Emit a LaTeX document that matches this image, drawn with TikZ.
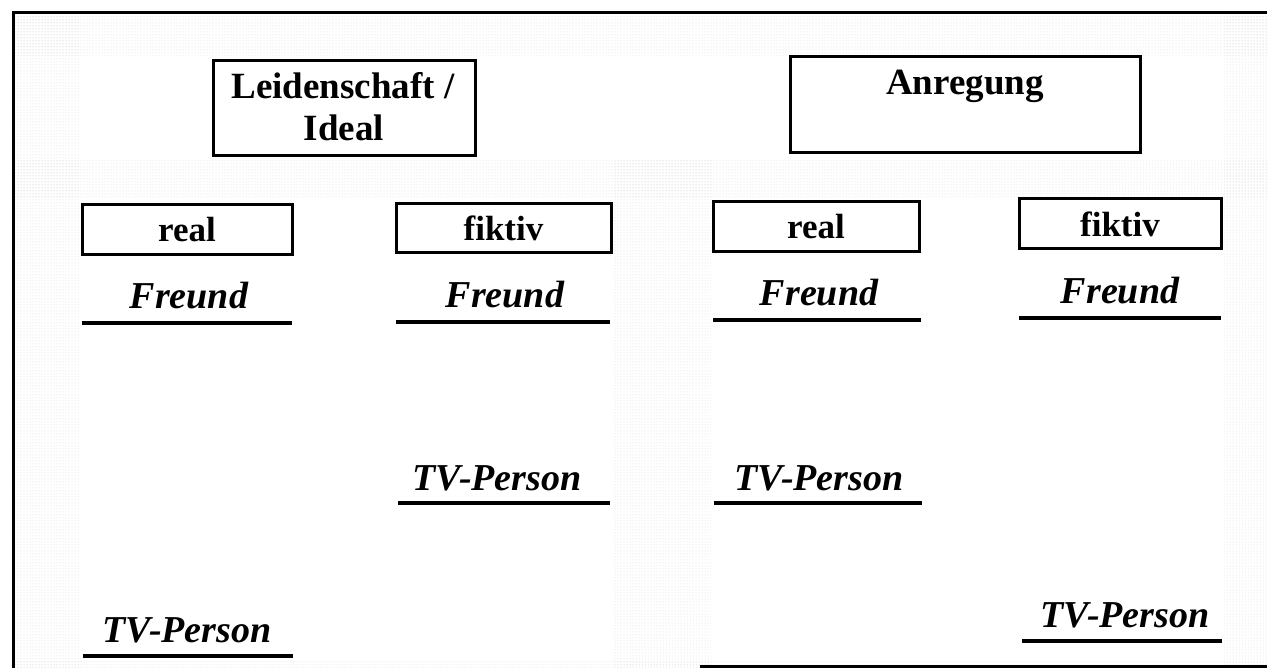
\documentclass[tikz,border=0pt]{standalone}
\usepackage{fontspec}
\setmainfont{Liberation Serif}
\usetikzlibrary{patterns}
\begin{document}
\begin{tikzpicture}[x=1pt,y=-1pt,
  box/.style={draw, line width=3pt, inner sep=0pt, align=center,
    font=\fontsize{35}{46}\selectfont\bfseries},
  topbox/.style={draw, line width=3pt, inner sep=0pt},
  toptext/.style={inner sep=0pt, anchor=base, font=\fontsize{37}{46}\selectfont\bfseries},
  item/.style={inner sep=0pt, anchor=base,
    font=\fontsize{38}{40}\selectfont\bfseries\itshape},
  uline/.style={line width=3.5pt},
  framel/.style={line width=3pt},
  halftone/.style={pattern=dots, pattern color=black!16}]
\useasboundingbox (0,0) rectangle (1267,668);
% halftone background regions
\fill[halftone] (13,13) rectangle (80,668);
\fill[halftone] (13,16) rectangle (1267,56);
\fill[halftone] (13,160) rectangle (1267,198);
\fill[halftone] (613,160) rectangle (711,668);
\fill[halftone] (1224,13) rectangle (1267,668);
\fill[halftone] (13,660) rectangle (1267,668);
% frame
\coordinate (fTL) at (13,13);
\coordinate (fTR) at (1267,13);
\coordinate (fBL) at (13,668);
\coordinate (fBM) at (700,666);
\coordinate (fBR) at (1267,666);
\draw[framel] (fTR) -- (fTL) -- (fBL);
\draw[framel] (fBM) -- (fBR);
% top boxes
\node[topbox, minimum width=262, minimum height=95] (lei) at (344,108.5) {};
\node[toptext] (leit1) at (343,99) {Leidenschaft /};
\node[toptext] (leit2) at (344,141) {Ideal};
\node[topbox, minimum width=350, minimum height=96] (anr) at (965,105) {};
\node[toptext] (anrt) at (965,95) {Anregung};
% sub boxes
\node[box, minimum width=210, minimum height=50] (r1) at (187,230) {real};
\node[box, minimum width=215, minimum height=49] (f1) at (503.5,228.5) {fiktiv};
\node[box, minimum width=206, minimum height=50] (r2) at (816,227) {real};
\node[box, minimum width=202, minimum height=50] (f2) at (1120,224) {fiktiv};
% Freund entries
\node[item] (fr1) at (189,309) {Freund};
\coordinate (fr1a) at (82,323); \coordinate (fr1b) at (292,323);
\draw[uline] (fr1a) -- (fr1b);
\node[item] (fr2) at (505,308) {Freund};
\coordinate (fr2a) at (396,322); \coordinate (fr2b) at (610,322);
\draw[uline] (fr2a) -- (fr2b);
\node[item] (fr3) at (819,306) {Freund};
\coordinate (fr3a) at (713,320); \coordinate (fr3b) at (921,320);
\draw[uline] (fr3a) -- (fr3b);
\node[item] (fr4) at (1120,304) {Freund};
\coordinate (fr4a) at (1019,318); \coordinate (fr4b) at (1221,318);
\draw[uline] (fr4a) -- (fr4b);
% TV-Person entries
\node[item] (tv1) at (187,642) {TV-Person};
\coordinate (tv1a) at (83,656); \coordinate (tv1b) at (293,656);
\draw[uline] (tv1a) -- (tv1b);
\node[item] (tv2) at (497,490) {TV-Person};
\coordinate (tv2a) at (398,503); \coordinate (tv2b) at (610,503);
\draw[uline] (tv2a) -- (tv2b);
\node[item] (tv3) at (819,490) {TV-Person};
\coordinate (tv3a) at (714,503); \coordinate (tv3b) at (922,503);
\draw[uline] (tv3a) -- (tv3b);
\node[item] (tv4) at (1125,627) {TV-Person};
\coordinate (tv4a) at (1022,641); \coordinate (tv4b) at (1222,641);
\draw[uline] (tv4a) -- (tv4b);
\end{tikzpicture}
\end{document}
